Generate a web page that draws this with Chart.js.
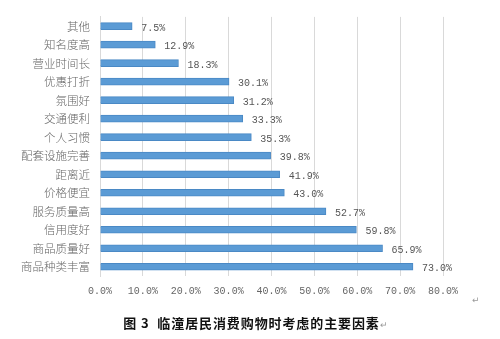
<!DOCTYPE html>
<html>
<head>
<meta charset="utf-8">
<script src="https://cdn.jsdelivr.net/npm/chart.js@4/dist/chart.umd.min.js"></script>
<style>
  body { margin: 0; background: #fff; }
  #wrap { position: relative; width: 500px; height: 339px; }
  #caption {
    position: absolute; left: 0; width: 512px; top: 313px;
    text-align: center; font: bold 13px "Noto Sans CJK SC", sans-serif; color: #111;
    letter-spacing: 0.9px;
  }
  .mark { position: absolute; font: 9px "DejaVu Sans", sans-serif; color: #999; }
</style>
</head>
<body>
<div id="wrap">
  <canvas id="chart" width="500" height="339"></canvas>
  <div id="caption">图 3&nbsp; 临潼居民消费购物时考虑的主要因素<span style="font-weight:normal;font-size:9px;color:#999">↵</span></div>
  <span class="mark" style="left:472px;top:295px">↵</span>
</div>
<script>
// factors, top to bottom
const categories = [
  "其他", "知名度高", "营业时间长", "优惠打折", "氛围好", "交通便利", "个人习惯",
  "配套设施完善", "距离近", "价格便宜", "服务质量高", "信用度好", "商品质量好", "商品种类丰富"
];
// share of respondents, %
const shares = [7.5, 12.9, 18.3, 30.1, 31.2, 33.3, 35.3, 39.8, 41.9, 43.0, 52.7, 59.8, 65.9, 73.0];
const xTicks = [0, 10, 20, 30, 40, 50, 60, 70, 80];

// percent labels to the right of each bar
const barLabels = {
  id: "barLabels",
  afterDatasetsDraw(chart) {
    const ctx = chart.ctx;
    const meta = chart.getDatasetMeta(0);
    ctx.save();
    ctx.font = "10px 'Liberation Mono', monospace";
    ctx.fillStyle = "#555";
    ctx.textBaseline = "middle";
    meta.data.forEach((bar, i) => {
      ctx.fillText(shares[i].toFixed(1) + "%", bar.x + 9, bar.y + 2);
    });
    ctx.restore();
  }
};

new Chart(document.getElementById("chart"), {
  type: "bar",
  data: {
    labels: categories,
    datasets: [{
      data: shares,
      backgroundColor: "#5b9bd5",
      borderColor: "#4a89c5",
      borderWidth: 1,
      barThickness: 7
    }]
  },
  options: {
    indexAxis: "y",
    responsive: false,
    animation: false,
    layout: { padding: { top: 13, right: 57, bottom: 0, left: 0 } },
    plugins: { legend: { display: false }, tooltip: { enabled: false } },
    scales: {
      x: {
        min: 0, max: 80,
        afterBuildTicks: (scale) => { scale.ticks = xTicks.map(v => ({ value: v })); },
        afterFit: (scale) => { scale.height = 63; },
        grid: { color: "#d9d9d9", drawTicks: false },
        border: { display: false },
        ticks: {
          padding: 9,
          color: "#666",
          font: { family: "'Liberation Mono', monospace", size: 10 },
          callback: (v) => v.toFixed(1) + "%"
        }
      },
      y: {
        afterFit: (scale) => { scale.width = 100; },
        grid: { display: false, drawTicks: false },
        border: { display: true, color: "#d9d9d9" },
        ticks: {
          padding: 10,
          color: "#666",
          font: { family: "'Noto Sans CJK SC', sans-serif", size: 11.5, weight: 300 }
        }
      }
    }
  },
  plugins: [barLabels]
});
</script>
</body>
</html>
